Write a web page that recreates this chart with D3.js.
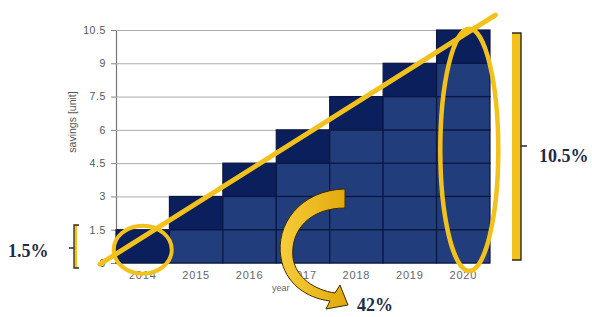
<!DOCTYPE html>
<html>
<head>
<meta charset="utf-8">
<script src="https://cdn.jsdelivr.net/npm/d3@7"></script>
<style>
  html, body { margin: 0; padding: 0; background: #fff; }
  svg { display: block; }
</style>
</head>
<body>
<svg id="chart" width="592" height="317"></svg>
<script>
// ---- data ----
const years = ["2014", "2015", "2016", "2017", "2018", "2019", "2020"];
const savings = [1.5, 3, 4.5, 6, 7.5, 9, 10.5];
const yTicks = [0, 1.5, 3, 4.5, 6, 7.5, 9, 10.5];
const yTickLabels = ["0", "1.5", "3", "4.5", "6", "7.5", "9", "10.5"];
const cellStep = 1.5;
// trend line end points: [band position (0..7), value]
const trendLine = [[-0.3, -0.05], [7.1, 11.17]];
const annotations = ["1.5%", "10.5%", "42%"];

// ---- setup ----
const svg = d3.select("#chart");
const W = 592, H = 317;
svg.append("rect").attr("width", W).attr("height", H).attr("fill", "#fff");

const pLeft = 116, pRight = 490, pTop = 30, pBottom = 263;
const x = d3.scaleBand().domain(years).range([pLeft, pRight]).padding(0);
const xPos = d3.scaleLinear().domain([0, years.length]).range([pLeft, pRight]);
const y = d3.scaleLinear().domain([0, 10.5]).range([pBottom, pTop]);
const bw = x.bandwidth();

const gold = "#f3c11b";
const navyDark = "#0a1f5c";
const navyLight = "#213d7b";
const sep = "#0b1740";
const axisFont = "'Liberation Sans', Arial, sans-serif";
const serif = "'Liberation Serif', 'Times New Roman', serif";

// ---- gridlines & y axis ----
const yAxis = d3.axisLeft(y).tickValues(yTicks)
  .tickFormat((d, i) => yTickLabels[i])
  .tickSize(-(pRight - pLeft)).tickPadding(10);
const gy = svg.append("g").attr("transform", `translate(${pLeft},0)`).call(yAxis);
gy.select(".domain").attr("stroke", "#777").attr("stroke-width", 1.2);
gy.selectAll(".tick line").attr("stroke", "#aaa").attr("stroke-width", 1);
gy.selectAll(".tick").append("line").attr("x1", -5).attr("x2", 0).attr("stroke", "#888");
gy.selectAll(".tick text")
  .attr("font-family", axisFont).attr("font-size", 10.5)
  .attr("letter-spacing", 0.6).attr("fill", "#555");

// ---- bars (stacked cells of 1.5) ----
const cells = [];
years.forEach((yr, i) => {
  const n = Math.round(savings[i] / cellStep);
  for (let k = 0; k < n; k++) {
    cells.push({ yr, y0: k * cellStep, y1: (k + 1) * cellStep, topCell: k === n - 1 });
  }
});
svg.append("g").selectAll("rect").data(cells).join("rect")
  .attr("x", d => x(d.yr))
  .attr("width", bw)
  .attr("y", d => y(d.y1))
  .attr("height", d => y(d.y0) - y(d.y1))
  .attr("fill", d => d.topCell ? navyDark : navyLight)
  .attr("stroke", sep).attr("stroke-width", 1.2);

// ---- x axis labels ----
const xAxis = d3.axisBottom(x).tickSize(0).tickPadding(8);
const gx = svg.append("g").attr("transform", `translate(0,${pBottom})`).call(xAxis);
gx.select(".domain").remove();
gx.selectAll(".tick text")
  .attr("font-family", axisFont).attr("font-size", 11)
  .attr("letter-spacing", 0.8).attr("fill", "#666");

// axis titles
svg.append("text")
  .attr("transform", `translate(76,122) rotate(-90)`)
  .attr("text-anchor", "middle")
  .attr("font-family", axisFont).attr("font-size", 10.5).attr("fill", "#555")
  .text("savings [unit]");
svg.append("text")
  .attr("x", 272).attr("y", 291)
  .attr("font-family", axisFont).attr("font-size", 9).attr("fill", "#666")
  .text("year");

// ---- trend line ----
svg.append("line")
  .attr("x1", xPos(trendLine[0][0])).attr("y1", y(trendLine[0][1]))
  .attr("x2", xPos(trendLine[1][0])).attr("y2", y(trendLine[1][1]))
  .attr("stroke", gold).attr("stroke-width", 5).attr("stroke-linecap", "round");

// ---- ellipses ----
svg.append("ellipse")
  .attr("cx", x("2014") + bw / 2).attr("cy", y(0.6))
  .attr("rx", 29).attr("ry", 24)
  .attr("fill", "none").attr("stroke", gold).attr("stroke-width", 4);
svg.append("ellipse")
  .attr("cx", x("2020") + bw / 2 + 6).attr("cy", y(5.1))
  .attr("rx", 29).attr("ry", 121)
  .attr("fill", "none").attr("stroke", gold).attr("stroke-width", 4.5);

// ---- right bracket ----
const rb = svg.append("g");
rb.append("rect").attr("x", 512).attr("y", 33).attr("width", 9).attr("height", 227).attr("fill", gold);
rb.append("path").attr("d", "M512,33 H521 V260 H512 M521,146 H527")
  .attr("fill", "none").attr("stroke", "#2a2a2a").attr("stroke-width", 1.4);

// ---- left bracket ----
const lb = svg.append("g");
lb.append("rect").attr("x", 74).attr("y", 225).attr("width", 3).attr("height", 43).attr("fill", gold);
lb.append("path").attr("d", "M79,225 H74 V268 H79 M74,248 H69")
  .attr("fill", "none").attr("stroke", "#2a2a2a").attr("stroke-width", 1.3);

// ---- curved arrow ----
const grad = svg.append("defs").append("linearGradient")
  .attr("id", "ag").attr("x1", 0).attr("y1", 0).attr("x2", 1).attr("y2", 0);
grad.append("stop").attr("offset", "0%").attr("stop-color", "#f6cd3a");
grad.append("stop").attr("offset", "100%").attr("stop-color", "#e2a80a");
svg.append("path")
  .attr("d", "M345,189 C300,190 275,225 281,258 C285,282 305,298 330,301 L326,309 L348,305 L340,285 L335,293 C315,290 296,278 293,258 C290,230 310,208 345,208 Z")
  .attr("fill", "url(#ag)").attr("stroke", "#3a2c05").attr("stroke-width", 1);

// ---- percent labels ----
const pct = [
  { t: annotations[0], x: 8, y: 257 },
  { t: annotations[1], x: 539, y: 162 },
  { t: annotations[2], x: 357, y: 311 }
];
svg.append("g").selectAll("text").data(pct).join("text")
  .attr("x", d => d.x).attr("y", d => d.y)
  .attr("font-family", serif).attr("font-weight", "bold")
  .attr("font-size", 18).attr("fill", "#1f2b4a")
  .text(d => d.t);
</script>
</body>
</html>
